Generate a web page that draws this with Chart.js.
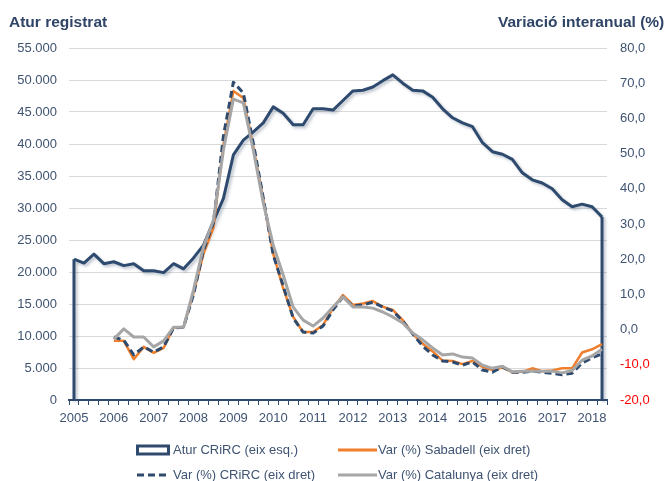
<!DOCTYPE html>
<html>
<head>
<meta charset="utf-8">
<script src="https://cdn.jsdelivr.net/npm/chart.js@4.4.1/dist/chart.umd.min.js"></script>
<style>
  html, body { margin: 0; padding: 0; background: #fff; }
  #wrap { position: relative; width: 666px; height: 481px; overflow: hidden; font-family: "Liberation Sans", Arial, sans-serif; }
  #chart { position: absolute; left: 0; top: 0; }
  .axis-title { position: absolute; top: 13px; font-weight: bold; font-size: 15.5px; color: #2f4466; white-space: nowrap; }
  .leg { position: absolute; height: 16px; font-size: 13px; line-height: 16px; color: #3f5372; white-space: nowrap; }
  .leg svg { position: absolute; top: 0; }
  .leg span { position: absolute; top: 0; }
</style>
</head>
<body>
<div id="wrap">
  <canvas id="chart" width="666" height="481"></canvas>
  <div class="axis-title" style="left:9px">Atur registrat</div>
  <div class="axis-title" style="left:498px">Variació interanual (%)</div>

  <div class="leg" style="left:136px; top:442px">
    <svg width="34" height="16"><rect x="1.5" y="4" width="31" height="8" fill="none" stroke="#2e4a6e" stroke-width="3"/></svg>
    <span style="left:37px">Atur CRiRC (eix esq.)</span>
  </div>
  <div class="leg" style="left:338px; top:442px">
    <svg width="40" height="16"><line x1="0" y1="8" x2="39" y2="8" stroke="#f07f2d" stroke-width="3"/></svg>
    <span style="left:40px">Var (%) Sabadell (eix dret)</span>
  </div>
  <div class="leg" style="left:137px; top:467px">
    <svg width="34" height="16"><line x1="0" y1="8" x2="32" y2="8" stroke="#2e4a6e" stroke-width="3" stroke-dasharray="7 4"/></svg>
    <span style="left:36px">Var (%) CRiRC (eix dret)</span>
  </div>
  <div class="leg" style="left:338px; top:467px">
    <svg width="40" height="16"><line x1="0" y1="8" x2="39" y2="8" stroke="#a6a6a6" stroke-width="3"/></svg>
    <span style="left:40px">Var (%) Catalunya (eix dret)</span>
  </div>
</div>

<script>
// quarterly data, 2005 T1 .. 2018 T2
const years = [2005, 2006, 2007, 2008, 2009, 2010, 2011, 2012, 2013, 2014, 2015, 2016, 2017, 2018];
const quarters = [];
years.forEach((y) => {
  for (let q = 1; q <= 4; q++) {
    if (y === 2018 && q > 2) break;
    quarters.push(`${y} T${q}`);
  }
});

// Atur registrat CRiRC (left axis)
const aturCrirc = [
  22000, 21400, 22800, 21300, 21600, 21000, 21300, 20200, 20200, 19900,
  21300, 20500, 22200, 24200, 27900, 31500, 38300, 40600, 41900, 43300,
  45800, 44800, 43000, 43000, 45500, 45500, 45300, 46800, 48300, 48400,
  48900, 49900, 50800, 49500, 48400, 48300, 47300, 45500, 44100, 43300,
  42700, 40200, 38800, 38400, 37600, 35500, 34400, 33900, 33000, 31300,
  30200, 30600, 30200, 28600,
];

// year-on-year change, % (right axis)
const varSabadell = [
  null, null, null, null, -3.2, -3.2, -8.4, -4.9, -6.6, -5.2, 0.7, 0.7,
  10.4, 21.5, 29.0, 52.5, 67.8, 65.8, 52.0, 37.0, 21.5, 11.8,
  3.6, -0.7, -0.7, 1.3, 6.1, 9.8, 7.0, 7.4, 8.1, 6.5,
  5.6, 2.7, -1.2, -4.0, -6.2, -8.8, -8.9, -9.8, -8.9, -10.6,
  -11.5, -10.8, -12.1, -12.0, -11.0, -11.8, -11.6, -11.0, -11.0, -6.5,
  -5.6, -4.1,
];
const varCrirc = [
  null, null, null, null, -2.1, -3.0, -7.2, -4.9, -6.4, -4.9, 0.5, 0.7,
  10.0, 22.5, 30.3, 55.0, 70.3, 67.2, 53.0, 37.4, 21.2, 12.4,
  3.3, -0.7, -1.0, 1.0, 5.6, 9.3, 6.7, 7.0, 7.8, 6.4,
  5.3, 2.4, -1.2, -4.7, -7.2, -8.9, -9.2, -10.1, -9.2, -11.5,
  -12.1, -10.6, -12.1, -12.1, -11.8, -12.1, -12.4, -12.8, -12.4, -9.5,
  -8.0, -6.9,
];
const varCatalunya = [
  null, null, null, null, -2.7, 0.2, -2.1, -2.1, -4.9, -3.2, 0.7, 0.7,
  11.3, 23.5, 31.1, 51.0, 65.5, 64.4, 51.0, 36.0, 24.0, 15.5,
  6.4, 2.7, 1.0, 3.3, 6.4, 9.3, 6.4, 6.4, 6.1, 5.0,
  3.6, 1.9, -1.0, -2.9, -5.2, -7.2, -6.9, -7.8, -8.1, -10.1,
  -11.0, -10.4, -12.0, -11.8, -11.8, -11.8, -11.8, -12.3, -11.6, -8.7,
  -7.5, -5.6,
];

const colors = {
  navy: "#2e4a6e",
  orange: "#f07f2d",
  gray: "#a6a6a6",
  text: "#3f5372",
  red: "#ff0000",
  grid: "#d9d9d9",
};

const font = { family: '"Liberation Sans", Arial, sans-serif', size: 13 };

function thousands(v) {
  return String(v).replace(/\B(?=(\d{3})+(?!\d))/g, ".");
}

// area series: shadow + vertical edges down to zero, like the Excel area outline
const areaOutline = {
  id: "areaOutline",
  beforeDatasetDraw(chart, args) {
    if (args.index !== 0) return;
    const ctx = chart.ctx;
    ctx.save();
    ctx.shadowColor = "rgba(60, 80, 110, 0.35)";
    ctx.shadowBlur = 3;
    ctx.shadowOffsetX = 2;
    ctx.shadowOffsetY = 2;
  },
  afterDatasetDraw(chart, args) {
    if (args.index !== 0) return;
    const ctx = chart.ctx;
    const pts = args.meta.data;
    const yZero = chart.scales.y.getPixelForValue(0);
    const ds = chart.data.datasets[0];
    ctx.strokeStyle = ds.borderColor;
    ctx.lineWidth = ds.borderWidth;
    [pts[0], pts[pts.length - 1]].forEach((p) => {
      ctx.beginPath();
      ctx.moveTo(p.x, p.y);
      ctx.lineTo(p.x, yZero);
      ctx.stroke();
    });
    ctx.restore();
  },
};

new Chart(document.getElementById("chart"), {
  type: "line",
  data: {
    labels: quarters,
    datasets: [
      {
        label: "Atur CRiRC (eix esq.)",
        data: aturCrirc,
        yAxisID: "y",
        borderColor: colors.navy,
        borderWidth: 3,
        order: 4,
      },
      {
        label: "Var (%) Sabadell (eix dret)",
        data: varSabadell,
        yAxisID: "y1",
        borderColor: colors.orange,
        borderWidth: 2.5,
        order: 3,
      },
      {
        label: "Var (%) CRiRC (eix dret)",
        data: varCrirc,
        yAxisID: "y1",
        borderColor: colors.navy,
        borderWidth: 3,
        borderDash: [7, 4],
        order: 2,
      },
      {
        label: "Var (%) Catalunya (eix dret)",
        data: varCatalunya,
        yAxisID: "y1",
        borderColor: colors.gray,
        borderWidth: 3,
        order: 1,
      },
    ],
  },
  options: {
    responsive: false,
    animation: false,
    layout: { padding: { top: 48, bottom: 59, left: 0, right: 0 } },
    elements: {
      point: { radius: 0 },
      line: { tension: 0, fill: false, borderJoinStyle: "round" },
    },
    plugins: {
      legend: { display: false },
      tooltip: { enabled: false },
    },
    scales: {
      x: {
        type: "category",
        offset: true,
        afterFit(scale) {
          scale.height = 22;
        },
        grid: {
          offset: true,
          drawOnChartArea: false,
          drawTicks: true,
          tickLength: 5,
          color: colors.navy,
        },
        border: { color: colors.navy, width: 2 },
        ticks: {
          autoSkip: false,
          maxRotation: 0,
          minRotation: 0,
          padding: 6,
          color: colors.text,
          font,
          callback(value) {
            const lab = this.getLabelForValue(value);
            return lab.endsWith("T1") ? lab.slice(0, 4) : "";
          },
        },
      },
      y: {
        position: "left",
        min: 0,
        max: 55000,
        afterFit(scale) {
          scale.width = 69;
        },
        grid: { color: colors.grid, drawTicks: false },
        border: { display: false },
        ticks: {
          stepSize: 5000,
          padding: 12,
          color: colors.text,
          font,
          callback: (v) => thousands(v),
        },
      },
      y1: {
        position: "right",
        min: -20,
        max: 80,
        afterFit(scale) {
          scale.width = 59;
        },
        grid: { drawOnChartArea: false, drawTicks: false },
        border: { display: false },
        ticks: {
          stepSize: 10,
          padding: 13,
          font,
          color: (c) => (c.tick && c.tick.value < 0 ? colors.red : colors.text),
          callback: (v) => v.toFixed(1).replace(".", ","),
        },
      },
    },
  },
  plugins: [areaOutline],
});
</script>
</body>
</html>
